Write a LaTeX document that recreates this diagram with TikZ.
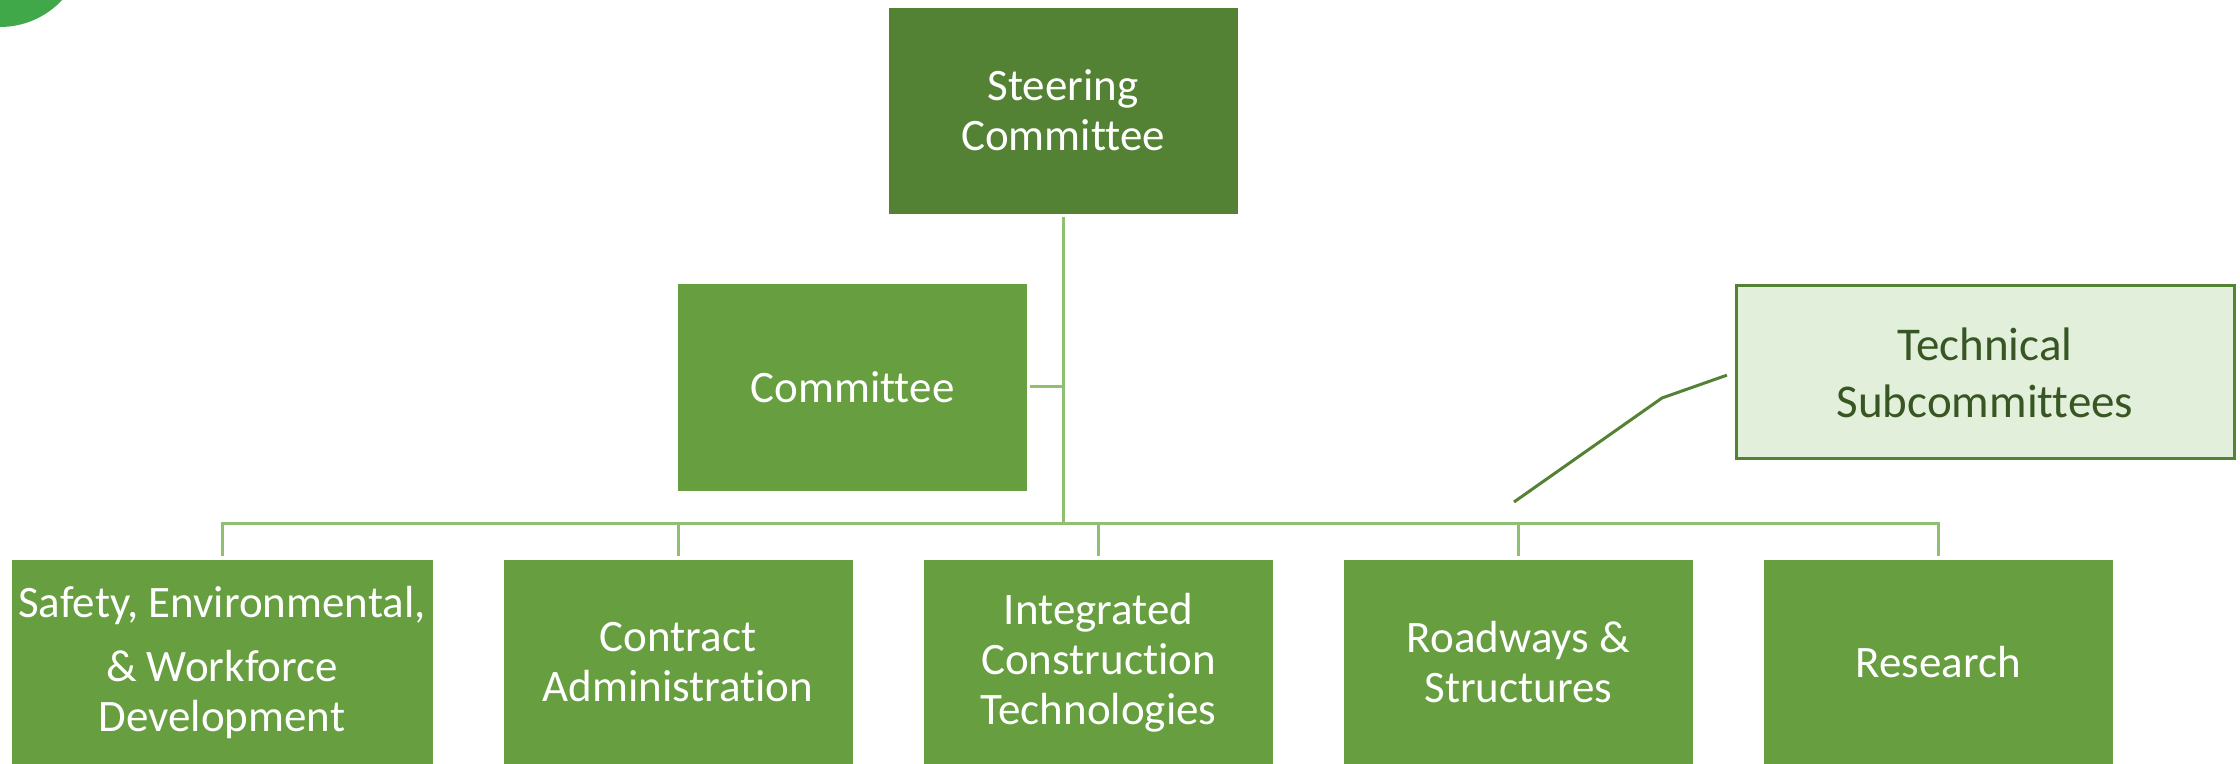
\documentclass[tikz,border=0pt]{standalone}
\usepackage{fontspec}
\setmainfont{Carlito}[Ligatures=NoCommon]
\usepackage{tikz}
\usetikzlibrary{positioning}

\definecolor{steergreen}{RGB}{84,130,53}
\definecolor{boxgreen}{RGB}{102,158,64}
\definecolor{linegreen}{RGB}{143,191,112}
\definecolor{palegreen}{RGB}{226,239,218}
\definecolor{textgreen}{RGB}{55,86,35}
\definecolor{dotgreen}{RGB}{64,168,72}

\begin{document}
\begin{tikzpicture}[x=0.5pt,y=-0.5pt,
	box/.style={rectangle,fill=boxgreen,draw=white,line width=0.4pt,text=white,align=center,inner sep=0pt,
		font=\fontsize{22.5}{25}\selectfont,minimum width=175pt,minimum height=103.5pt},
	link/.style={draw=linegreen,line width=1.5pt}]
	\clip (0,0) rectangle (2240,764);
	
	%corner
	\fill[dotgreen] (0,-58) circle (85);
	
	%top boxes
	\node[box,fill=steergreen] (steer) at (1063,110.5) {Steering\\Committee};
	\node[box,minimum height=104pt] (comm) at (852.5,387) {Committee};
	
	%bottom boxes
	\node[box,minimum width=211pt] (b1) at (222,662.5) {Safety, Environmental,\\[7pt]\& Workforce\\Development};
	\node[box] (b2) at (678,662.5)  {Contract\\Administration};
	\node[box] (b3) at (1098.5,662.5) {Integrated\\Construction\\Technologies};
	\node[box] (b4) at (1518.5,662.5) {Roadways \&\\Structures};
	\node[box] (b5) at (1938.5,662.5) {Research};
	
	%callout
	\node[rectangle,fill=palegreen,draw=steergreen,line width=1.5pt,text=textgreen,align=center,
		font=\fontsize{23.5}{28.5}\selectfont,minimum width=249pt,minimum height=86.5pt] (tech) at (1985,372.5) {Technical\\Subcommittees};
	
	%lines
	\coordinate (bus) at (1063,524);
	\draw[link,shorten <=1.5pt] (steer) -- (bus);
	\draw[link,shorten <=1pt] (comm) -- (comm -| bus);
	\foreach \n in {b1,b2,b3,b4,b5}
		\draw[link,shorten >=1.5pt] (bus) -| (\n.north);
	
	\coordinate (bend) at (1662,398);
	\coordinate (tip) at (1514,502);
	\draw[draw=steergreen,line width=1.5pt,shorten <=4pt] (tech.west) -- (bend) -- (tip);
\end{tikzpicture}
\end{document}
